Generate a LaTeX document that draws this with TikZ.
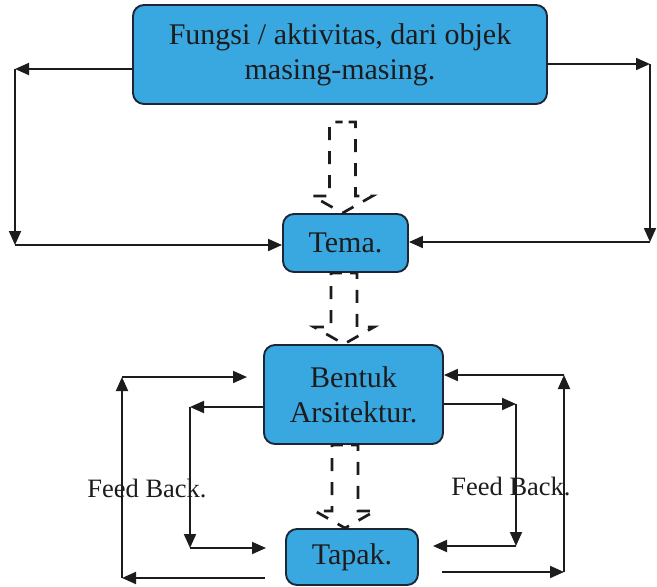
\documentclass[tikz,border=0pt]{standalone}
\usepackage{fontspec}
\setmainfont{Liberation Serif}
\usetikzlibrary{arrows.meta,calc}

\definecolor{boxfill}{RGB}{58,168,224}
\definecolor{boxline}{RGB}{28,38,52}
\definecolor{ink}{RGB}{28,28,30}

% hollow dashed block arrow from a top-centre point straight down to the level of a target point
\newcommand\hollowdown[2]{%
  \coordinate (hdtip) at (#1 |- #2);
  \draw[flowarrow]
    (#1) -- ($(#1)+(13,0)$) -- ($(hdtip)+(13,-17)$) -- ($(hdtip)+(30,-17)$)
    -- (hdtip) -- ($(hdtip)+(-30,-17)$) -- ($(hdtip)+(-13,-17)$)
    -- ($(#1)+(-13,0)$) -- cycle;}

\begin{document}
\begin{tikzpicture}[x=1pt,y=-1pt,
  stage/.style={draw=boxline, line width=1.9pt, fill=boxfill, rounded corners=11pt,
    inner sep=0pt, align=center, text=ink,
    font=\fontsize{30}{35}\selectfont},
  link/.style={draw=ink, line width=1.9pt,
    -{Triangle[length=14pt,width=12pt]}},
  flowarrow/.style={draw=ink, line width=2.7pt, dash pattern=on 13pt off 11pt,
    dash phase=18pt},
  fbtext/.style={text=ink, anchor=base, inner sep=0pt,
    font=\fontsize{26.5}{30}\selectfont}]

\useasboundingbox (0,0) rectangle (657,587);

% stages
\node[stage, minimum width=414pt, minimum height=99pt] (top) at (340,54.5)
  {Fungsi / aktivitas, dari objek\\masing-masing.};
\node[stage, minimum width=125pt, minimum height=58pt] (tema) at (345.5,243) {Tema.};
\node[stage, minimum width=179pt, minimum height=99pt] (bentuk) at (353.5,394.5)
  {Bentuk\\Arsitektur.};
\node[stage, minimum width=132pt, minimum height=56pt] (tapak) at (352,557) {Tapak.};

% feedback labels
\node[fbtext] (fbl) at (147,497) {Feed Back.};
\node[fbtext] (fbr) at (511,495) {Feed Back.};

% main flow (hollow dashed arrows)
\coordinate (f1a) at (342.5,122);
\hollowdown{f1a}{tema.north}
\coordinate (f2a) at ($(tema.south)+(-1.5,0)$);
\hollowdown{f2a}{bentuk.north}
\coordinate (f3a) at ($(bentuk.south)+(-8.5,0)$);
\hollowdown{f3a}{tapak.north}

% loops around the top stage
\coordinate (tl) at (15,69);
\coordinate (bl) at (15,245);
\coordinate (tr) at (650,64);
\coordinate (br) at (650,242);
\draw[link] (top.west |- tl) -- (tl);
\draw[link] (tl) -- (bl);
\draw[link] (bl) -- (tema.west |- bl);
\draw[link] (top.east |- tr) -- (tr);
\draw[link] (tr) -- (br);
\draw[link] (br) -- (tema.east |- br);

% feedback, left side
\coordinate (lo0) at (265,578);
\coordinate (lo1) at (122,578);
\coordinate (lo2) at (122,377);
\coordinate (lo3) at (247,377);
\draw[link] (lo0) -- (lo1);
\draw[link] (lo1) -- (lo2);
\draw[link] (lo2) -- (lo3);
\coordinate (li1) at (190,407);
\coordinate (li2) at (190,548);
\coordinate (li3) at (266,548);
\draw[link] (bentuk.west |- li1) -- (li1);
\draw[link] (li1) -- (li2);
\draw[link] (li2) -- (li3);

% feedback, right side
\coordinate (ro0) at (442,572);
\coordinate (ro1) at (564,572);
\coordinate (ro2) at (564,375);
\draw[link] (ro0) -- (ro1);
\draw[link] (ro1) -- (ro2);
\draw[link] (ro2) -- (bentuk.east |- ro2);
\coordinate (ri1) at (516,404);
\coordinate (ri2) at (516,546);
\coordinate (ri3) at (433,546);
\draw[link] (bentuk.east |- ri1) -- (ri1);
\draw[link] (ri1) -- (ri2);
\draw[link] (ri2) -- (ri3);
\end{tikzpicture}
\end{document}
